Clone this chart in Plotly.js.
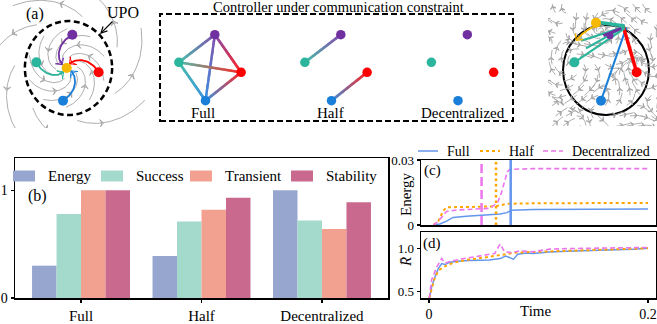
<!DOCTYPE html>
<html><head><meta charset="utf-8">
<script src="https://cdn.plot.ly/plotly-3.0.1.min.js"></script>
<style>html,body{margin:0;padding:0;background:#fff;}#chart{width:657px;height:324px;}</style>
</head><body><div id="chart"></div>
<script>
// ================= DATA =================
// (b) bar chart
const groups = ['Full', 'Half', 'Decentralized'];
const metrics = ['Energy', 'Success', 'Transient', 'Stability'];
const energyScore    = [0.30, 0.39, 1.00];
const successScore   = [0.78, 0.71, 0.72];
const transientScore = [1.00, 0.82, 0.64];
const stabilityScore = [1.00, 0.93, 0.89];

// (c) energy vs time
const tFullE = [0.004, 0.010, 0.016, 0.022, 0.034, 0.050, 0.065, 0.071, 0.0755, 0.095, 0.156, 0.2];
const eFull  = [0, 0.0005, 0.0018, 0.0035, 0.0040, 0.0045, 0.0051, 0.0057, 0.0068, 0.0071, 0.0072, 0.0074];
const tHalfE = [0.004, 0.0085, 0.013, 0.016, 0.034, 0.050, 0.060, 0.065, 0.071, 0.095, 0.2];
const eHalf  = [0, 0.0018, 0.0065, 0.0082, 0.0083, 0.0085, 0.0086, 0.0091, 0.0098, 0.0100, 0.0102];
const tDecE  = [0.004, 0.007, 0.0115, 0.016, 0.025, 0.034, 0.048, 0.055, 0.059, 0.063, 0.066, 0.069, 0.0715, 0.074, 0.095, 0.2];
const eDec   = [0, 0.0011, 0.0035, 0.0062, 0.0069, 0.0072, 0.0077, 0.0077, 0.0089, 0.0108, 0.0146, 0.0208, 0.0246, 0.0257, 0.0260, 0.0260];
// switching instants (Full, Half, Decentralized)
const switchTime = [0.0746, 0.0612, 0.048];

// (d) order parameter R vs time
const tFullR = [0.0003, 0.0024, 0.0055, 0.0085, 0.0116, 0.0146, 0.019, 0.028, 0.037, 0.046, 0.055, 0.065, 0.070, 0.074, 0.077, 0.081, 0.089, 0.095, 0.110, 0.126, 0.156, 0.186, 0.2];
const rFull  = [0.415, 0.55, 0.667, 0.764, 0.822, 0.81, 0.837, 0.853, 0.857, 0.857, 0.864, 0.88, 0.91, 0.89, 0.87, 0.93, 0.946, 0.94, 0.957, 0.965, 0.973, 0.988, 1.0];
const tHalfR = [0.0003, 0.0046, 0.0085, 0.0146, 0.022, 0.034, 0.046, 0.058, 0.068, 0.080, 0.095, 0.126, 0.2];
const rHalf  = [0.42, 0.63, 0.74, 0.79, 0.83, 0.864, 0.884, 0.91, 0.93, 0.95, 0.957, 0.97, 1.0];
const tDecR  = [0.0003, 0.0024, 0.007, 0.0116, 0.0146, 0.019, 0.028, 0.040, 0.052, 0.060, 0.065, 0.069, 0.075, 0.083, 0.095, 0.110, 0.126, 0.2];
const rDec   = [0.42, 0.63, 0.78, 0.88, 0.826, 0.845, 0.872, 0.895, 0.919, 0.94, 1.05, 0.96, 0.95, 0.97, 0.96, 0.99, 0.996, 1.01];

// (a) network nodes (unit coords): purple, teal, red, blue
const nodeX = [0.13, -0.95, 0.92, -0.15];
const nodeY = [1.00, 0.17, -0.13, -0.98];
const hubX = [-0.04], hubY = [0.0];            // target (yellow) in left portrait
const edgesFull = [[0,1],[0,2],[0,3],[1,2],[1,3],[2,3]];
const edgesHalf = [[1,0],[3,2]];
const edgesDec  = [];
// right portrait final positions: purple, teal, red, blue, yellow
const finX = [0.12, -0.95, 0.92, -0.15, -0.30];
const finY = [0.97, 0.17, -0.13, -0.98, 1.36];
const convX = 0.56, convY = 1.24;

// ================= STYLE =================
const W = 657, H = 324, S = 33.3;
const FONT = '"Liberation Serif", "DejaVu Serif", serif';
const nodeColors = ['#7030a0', '#2bb59c', '#ff0000', '#1a7fd9'];
const hubColor = '#f6b800';
const barColors = ['#96a6ce', '#a4dacb', '#f2a190', '#c8698d'];
const cFull = '#6495ed', cHalf = '#ffa500', cDec = '#ec76ec';
const GRAY = '#a4a4a4';

const px = x => x / W, py = y => (H - y) / H;
const traces = [];
const layout = {
  width: W, height: H, margin: {l:0, r:0, t:0, b:0},
  paper_bgcolor: '#fff', plot_bgcolor: 'rgba(0,0,0,0)',
  showlegend: false, hovermode: false,
  font: {family: FONT, size: 14, color: '#000'},
  shapes: [], annotations: []
};

function diagAxes(n, x0, x1, y0, y1, cx, cy) {
  layout['xaxis' + n] = {domain: [px(x0), px(x1)], range: [(x0 - cx) / S, (x1 - cx) / S], visible: false, anchor: 'y' + n};
  layout['yaxis' + n] = {domain: [py(y1), py(y0)], range: [(cy - y1) / S, (cy - y0) / S], visible: false, anchor: 'x' + n};
}
diagAxes(1, 0, 152, 0, 128, 68, 68);
diagAxes(2, 162, 258, 16, 118, 210.5, 68);
diagAxes(3, 288, 386, 16, 118, 336.5, 68);
diagAxes(4, 414, 511, 16, 118, 463, 68);
diagAxes(5, 548, 657, 4, 126, 606, 68);

function hexRgb(h){ return [1,3,5].map(i => parseInt(h.substr(i,2),16)); }
function angleOf(ux, uy){ return Math.atan2(ux, uy) * 180 / Math.PI; }

function arrowTrace(ax, xs, ys, angs, color, size) {
  traces.push({type:'scatter', mode:'markers', x: xs, y: ys, xaxis:'x'+ax, yaxis:'y'+ax,
    marker:{symbol:'arrow-wide-open', size: size, angle: angs, color: color, line:{color: color, width: 1}}, showlegend:false});
}

// ---------- left portrait (stable focus inside UPO) ----------
(function(){
  let gx = [], gy = [], ahx = [], ahy = [], aha = [];
  function spiralPts(r0, r1, th0, dth, n, cx, cy) {
    const xs = [], ys = [];
    for (let i = 0; i <= n; i++) {
      const s = i / n, r = r0 + (r1 - r0) * s, th = th0 + dth * s;
      xs.push(cx + r * Math.cos(th)); ys.push(cy + r * Math.sin(th));
    }
    return [xs, ys];
  }
  for (let k = 0; k < 10; k++) {
    const th0 = k * 2 * Math.PI / 10 + 0.3;
    const [xs, ys] = spiralPts(1.18, 0.32, th0, 1.7, 30, hubX[0], hubY[0]);
    gx = gx.concat(xs, [null]); gy = gy.concat(ys, [null]);
    const m = 15; ahx.push(xs[m]); ahy.push(ys[m]); aha.push(angleOf(xs[m]-xs[m-1], ys[m]-ys[m-1]));
  }
  for (let k = 0; k < 7; k++) {
    const th0 = k * 2 * Math.PI / 7 + 0.4;
    const [xs, ys] = spiralPts(1.6, 2.5, th0, 1.0, 30, 0, 0);
    gx = gx.concat(xs, [null]); gy = gy.concat(ys, [null]);
    const m = 12; ahx.push(xs[m]); ahy.push(ys[m]); aha.push(angleOf(xs[m]-xs[m-1], ys[m]-ys[m-1]));
  }
  traces.push({type:'scatter', mode:'lines', x: gx, y: gy, xaxis:'x1', yaxis:'y1', line:{color: GRAY, width: 0.9}, showlegend:false});
  arrowTrace(1, ahx, ahy, aha, GRAY, 5);
  nodeX.forEach((x0, i) => {
    const dx = x0 - hubX[0], dy = nodeY[i] - hubY[0];
    const r0 = Math.hypot(dx, dy), th0 = Math.atan2(dy, dx);
    const xs = [], ys = [];
    for (let j = 0; j <= 30; j++) {
      const s = 0.84 * j / 30, r = r0 * (1 - s), th = th0 + 1.3 * s;
      xs.push(hubX[0] + r * Math.cos(th)); ys.push(hubY[0] + r * Math.sin(th));
    }
    traces.push({type:'scatter', mode:'lines', x: xs, y: ys, xaxis:'x1', yaxis:'y1', line:{color: nodeColors[i], width: 1.8}, showlegend:false});
    arrowTrace(1, [xs[30]], [ys[30]], [angleOf(xs[30]-xs[28], ys[30]-ys[28])], nodeColors[i], 7);
  });
  traces.push({type:'scatter', mode:'markers', x: nodeX, y: nodeY, xaxis:'x1', yaxis:'y1', marker:{size: 10, color: nodeColors}, showlegend:false});
  traces.push({type:'scatter', mode:'markers', x: hubX, y: hubY, xaxis:'x1', yaxis:'y1', marker:{size: 10, color: hubColor}, showlegend:false});
  layout.shapes.push({type:'circle', xref:'x1', yref:'y1', x0: 0.015 - 1.31, x1: 0.015 + 1.31, y0: -1.41, y1: 1.41,
    line:{color:'#000', width: 2.5, dash:'6px,3.5px'}, layer:'below'});
})();

// ---------- communication graphs ----------
function drawGraph(ax, edges) {
  const ex = [], ey = [], ec = [];
  edges.forEach(([a, b]) => {
    const ca = hexRgb(nodeColors[a]), cb = hexRgb(nodeColors[b]);
    const N = 60;
    for (let j = 0; j <= N; j++) {
      const s = j / N;
      ex.push(nodeX[a] + (nodeX[b] - nodeX[a]) * s);
      ey.push(nodeY[a] + (nodeY[b] - nodeY[a]) * s);
      const c = ca.map((v, k) => (v + (cb[k] - v) * s) * 0.85 + 255 * 0.15);
      ec.push('rgb(' + c.map(Math.round).join(',') + ')');
    }
  });
  if (ex.length) traces.push({type:'scatter', mode:'markers', x: ex, y: ey, xaxis:'x'+ax, yaxis:'y'+ax,
    marker:{size: 2.6, color: ec}, showlegend:false});
  traces.push({type:'scatter', mode:'markers', x: nodeX, y: nodeY, xaxis:'x'+ax, yaxis:'y'+ax,
    marker:{size: 9.5, color: nodeColors}, showlegend:false});
}
drawGraph(2, edgesFull);
drawGraph(3, edgesHalf);
drawGraph(4, edgesDec);

// ---------- right portrait (after switching) ----------
(function(){
  function field(x, y) {
    return [Math.sin(3.1*y) + 0.8*Math.cos(2.3*x + 1.3*y), Math.sin(2.7*x) - 0.7*Math.cos(3.3*y - 1.9*x)];
  }
  let gx = [], gy = [], ahx = [], ahy = [], aha = [];
  for (let i = 0; i < 11; i++) for (let j = 0; j < 12; j++) {
    let x = -1.62 + i * 0.32 + (j % 2) * 0.1, y = -1.75 + j * 0.31;
    const xs = [x], ys = [y];
    for (let k = 0; k < 8; k++) {
      const f = field(x, y), n = Math.hypot(f[0], f[1]) || 1;
      x += 0.055 * f[0] / n; y += 0.055 * f[1] / n; xs.push(x); ys.push(y);
    }
    gx = gx.concat(xs, [null]); gy = gy.concat(ys, [null]);
    ahx.push(xs[4]); ahy.push(ys[4]); aha.push(angleOf(xs[4]-xs[3], ys[4]-ys[3]));
  }
  traces.push({type:'scatter', mode:'lines', x: gx, y: gy, xaxis:'x5', yaxis:'y5', line:{color: GRAY, width: 0.9}, showlegend:false});
  arrowTrace(5, ahx, ahy, aha, GRAY, 4);
  layout.shapes.push({type:'circle', xref:'x5', yref:'y5', x0: -1.29, x1: 1.29, y0: -0.06 - 1.35, y1: -0.06 + 1.35,
    line:{color:'#000', width: 2}, layer:'below'});
  const seg = (xa, ya, xb, yb, color, w) => traces.push({type:'scatter', mode:'lines', x:[xa, xb], y:[ya, yb],
    xaxis:'x5', yaxis:'y5', line:{color: color, width: w}, showlegend:false});
  seg(finX[3], finY[3], convX + 0.05, convY - 0.02, nodeColors[3], 2);
  seg(finX[2], finY[2], convX - 0.05, convY + 0.04, nodeColors[2], 3.5);
  seg(finX[1], finY[1], convX, convY - 0.05, nodeColors[1], 2.2);
  seg(finX[1] + 0.35, finY[1] + 0.42, convX, convY, nodeColors[1], 2.2);
  seg(finX[1] + 0.2, finY[1] + 0.65, convX - 0.05, convY - 0.02, nodeColors[1], 2.2);
  seg(finX[4], finY[4] + 0.02, convX, convY + 0.02, nodeColors[1], 3.5);
  seg(finX[0] - 0.2, finY[0], convX - 0.1, convY - 0.05, nodeColors[0], 3);
  const yx = [], yy = [];
  for (let j = 0; j <= 20; j++) {
    const s = j / 20, th = Math.PI/2 + 0.25 + 0.6 * s, r = 1.38 - 0.05 * s;
    yx.push(r * Math.cos(th) + 0.1); yy.push(r * Math.sin(th) - 0.05);
  }
  traces.push({type:'scatter', mode:'lines', x: yx, y: yy, xaxis:'x5', yaxis:'y5', line:{color: hubColor, width: 1.8}, showlegend:false});
  arrowTrace(5, [yx[20]], [yy[20]], [angleOf(yx[20]-yx[18], yy[20]-yy[18])], hubColor, 7);
  traces.push({type:'scatter', mode:'markers', x: finX.slice(1, 4), y: finY.slice(1, 4), xaxis:'x5', yaxis:'y5',
    marker:{size: 10, color: nodeColors.slice(1)}, showlegend:false});
  traces.push({type:'scatter', mode:'markers', x: [finX[0]], y: [finY[0]], xaxis:'x5', yaxis:'y5',
    marker:{size: 7, color: nodeColors[0]}, showlegend:false});
  traces.push({type:'scatter', mode:'markers', x: [finX[4]], y: [finY[4]], xaxis:'x5', yaxis:'y5',
    marker:{size: 10, color: hubColor}, showlegend:false});
})();

// ---------- (a) annotations ----------
const ann = (text, x, y, size, extra) => layout.annotations.push(Object.assign({text: text, x: px(x), y: py(y), xref:'paper', yref:'paper',
  showarrow: false, font:{family: FONT, size: size, color:'#000'}, xanchor:'center', yanchor:'middle'}, extra || {}));
ann('(a)', 35, 14, 16);
ann('UPO', 123, 13, 16);
layout.annotations.push({text:'', x: px(100), y: py(34), xref:'paper', yref:'paper', ax: 14, ay: -14,
  showarrow: true, arrowhead: 5, arrowsize: 1, arrowwidth: 1.2, arrowcolor:'#000'});
layout.shapes.push({type:'rect', xref:'paper', yref:'paper', x0: px(160), x1: px(513), y0: py(121), y1: py(14),
  line:{color:'#000', width: 2, dash:'6px,3px'}});
ann('Controller under communication constraint', 338, 0, 14.5, {yanchor:'top', borderpad: 0, yshift: 2});
ann(groups[0], 203, 113, 15);
ann(groups[1], 330, 113, 15);
ann(groups[2], 463, 113, 15);

// ---------- (b) bar chart ----------
const scores = [energyScore, successScore, transientScore, stabilityScore];
metrics.forEach((m, i) => traces.push({type:'bar', name: m, x: groups, y: scores[i], xaxis:'x6', yaxis:'y6',
  marker:{color: barColors[i], line:{width: 0}}, showlegend:false}));
layout.barmode = 'group'; layout.bargap = 0.187; layout.bargroupgap = 0;
const axBase = {showline: true, mirror: true, linecolor:'#000', linewidth: 1.5, showgrid: false, zeroline: false,
  ticks:'outside', ticklen: 3, tickwidth: 1.2, tickcolor:'#000', tickfont:{family: FONT, size: 14, color:'#000'}};
layout.xaxis6 = Object.assign({}, axBase, {domain:[px(15), px(388)], range:[-0.548, 2.548], anchor:'y6', type:'category',
  tickfont:{family: FONT, size: 15, color:'#000'}});
layout.yaxis6 = Object.assign({}, axBase, {domain:[py(298), py(158)], range:[0, 1.3], anchor:'x6', tickvals:[0, 1], ticktext:['0', '1']});
ann('(b)', 37, 196, 16);
const legPatchX = [13, 101, 190, 291];
metrics.forEach((m, i) => {
  layout.shapes.push({type:'rect', xref:'paper', yref:'paper', x0: px(legPatchX[i]), x1: px(legPatchX[i] + 22),
    y0: py(181.5), y1: py(170.5), fillcolor: barColors[i], line:{width: 0}});
  ann(m, legPatchX[i] + 33, 176, 15, {xanchor:'left'});
});

// ---------- (c) energy ----------
const lineStyles = [
  {color: cFull, width: 1.5, dash:'solid'},
  {color: cHalf, width: 2, dash:'dot'},
  {color: cDec, width: 1.6, dash:'5px,3px'}];
const vStyles = [
  {color: cFull, width: 2.5, dash:'solid'},
  {color: cHalf, width: 2.5, dash:'2.5px,3px'},
  {color: cDec, width: 2.5, dash:'9px,4px'}];
[[tFullE, eFull], [tHalfE, eHalf], [tDecE, eDec]].forEach(([t, e], i) =>
  traces.push({type:'scatter', mode:'lines', name: groups[i], x: t, y: e, xaxis:'x7', yaxis:'y7', line: lineStyles[i], showlegend:false}));
switchTime.forEach((t, i) =>
  traces.push({type:'scatter', mode:'lines', x:[t, t], y:[0, 0.031], xaxis:'x7', yaxis:'y7', line: vStyles[i], showlegend:false, cliponaxis:false}));
layout.xaxis7 = Object.assign({}, axBase, {domain:[px(421), px(656)], range:[-0.0073, 0.2073], anchor:'y7', showticklabels:false, ticks:''});
layout.yaxis7 = Object.assign({}, axBase, {domain:[py(225), py(160)], range:[0, 0.03], anchor:'x7', tickvals:[0, 0.03], ticktext:['0', '0.03'],
  tickfont:{family: FONT, size: 13, color:'#000'}});
ann('(c)', 432, 170, 15);
ann('Energy', 406, 194, 15, {textangle: -90});

// ---------- (d) order parameter ----------
[[tFullR, rFull], [tHalfR, rHalf], [tDecR, rDec]].forEach(([t, r], i) =>
  traces.push({type:'scatter', mode:'lines', name: groups[i], x: t, y: r, xaxis:'x8', yaxis:'y8', line: lineStyles[i], showlegend:false}));
layout.xaxis8 = Object.assign({}, axBase, {domain:[px(421), px(656)], range:[-0.0073, 0.2073], anchor:'y8', tickvals:[0, 0.2], ticktext:['0', '0.2']});
layout.yaxis8 = Object.assign({}, axBase, {domain:[py(298), py(232)], range:[0.42, 1.19], anchor:'x8', tickvals:[0.5, 1.0], ticktext:['0.5', '1.0'],
  tickfont:{family: FONT, size: 13, color:'#000'}});
ann('(d)', 432, 243, 15);
ann('<i>R\u0304</i>', 406, 262, 15, {textangle: -90});
ann('Time', 535, 311, 15);

// line legend
const legLineX = [418, 480, 543];
groups.forEach((g, i) => {
  layout.shapes.push({type:'line', xref:'paper', yref:'paper', x0: px(legLineX[i]), x1: px(legLineX[i] + 20), y0: py(151), y1: py(151),
    line: lineStyles[i]});
  ann(g, legLineX[i] + 27, 151, 14, {xanchor:'left'});
});

Plotly.newPlot('chart', traces, layout, {staticPlot: true});
</script></body></html>
